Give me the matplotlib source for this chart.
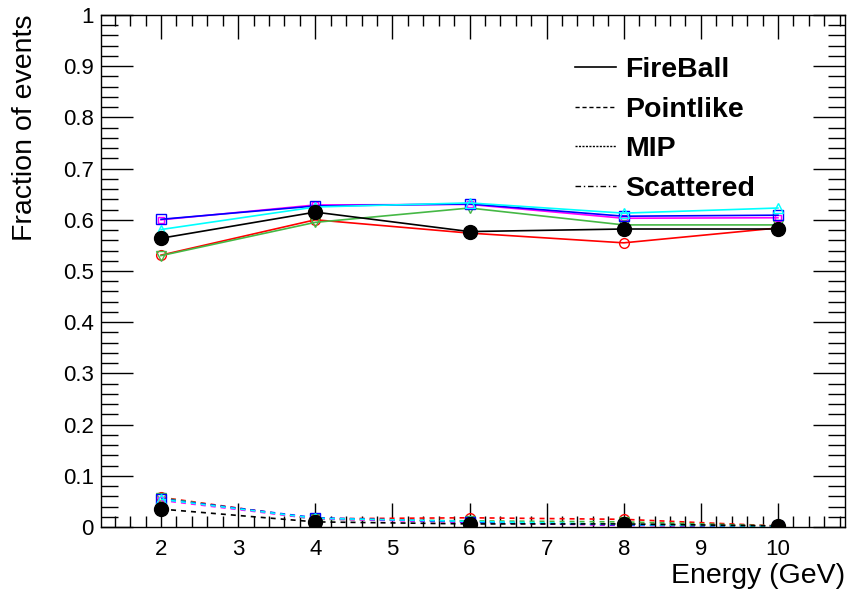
import matplotlib
matplotlib.use('Agg')
import matplotlib.pyplot as plt
from matplotlib.lines import Line2D
from matplotlib.ticker import MultipleLocator

plt.rcParams['font.family'] = ['Liberation Sans', 'DejaVu Sans']

# Energy points (GeV)
energy = [2, 4, 6, 8, 10]

# FireBall fractions, one list per sample
fire_black = [0.564, 0.615, 0.577, 0.582, 0.582]
fire_red = [0.531, 0.600, 0.574, 0.555, 0.584]
fire_green = [0.530, 0.595, 0.623, 0.590, 0.590]
fire_blue = [0.601, 0.627, 0.631, 0.607, 0.609]
fire_magenta = [0.600, 0.629, 0.630, 0.603, 0.604]
fire_cyan = [0.581, 0.625, 0.633, 0.613, 0.623]

# Pointlike fractions
point_black = [0.035, 0.010, 0.006, 0.006, 0.002]
point_red = [0.058, 0.016, 0.018, 0.015, 0.002]
point_green = [0.057, 0.015, 0.012, 0.010, 0.002]
point_blue = [0.055, 0.018, 0.010, 0.004, 0.001]
point_magenta = [0.052, 0.016, 0.009, 0.003, 0.001]
point_cyan = [0.054, 0.017, 0.011, 0.005, 0.001]

legend_labels = ['FireBall', 'Pointlike', 'MIP', 'Scattered']

fig = plt.figure(figsize=(8.48, 5.95), dpi=100)
ax = fig.add_axes([0.119, 0.1143, 0.8775, 0.8605])

green = '#45b845'
styles = [
    (fire_red, point_red, 'red', 'o', 7),
    (fire_green, point_green, green, 'v', 7),
    (fire_magenta, point_magenta, 'magenta', 's', 5),
    (fire_blue, point_blue, 'blue', 's', 7),
    (fire_cyan, point_cyan, 'cyan', '^', 7),
]
for fire, point, col, mk, ms in styles:
    ax.plot(energy, fire, color=col, lw=1.2, marker=mk, mfc='none', mec=col, ms=ms, mew=1.0)
    ax.plot(energy, point, color=col, lw=1.2, ls=(0, (3, 3)), marker=mk, mfc='none', mec=col, ms=ms, mew=1.0)

ax.plot(energy, fire_black, color='black', lw=1.2, marker='o', ms=10)
ax.plot(energy, point_black, color='black', lw=1.2, ls=(0, (3, 3)), marker='o', ms=10)

ax.set_xlim(1.22, 10.87)
ax.set_ylim(0, 1)
ax.xaxis.set_minor_locator(MultipleLocator(0.2))
ax.yaxis.set_minor_locator(MultipleLocator(0.02))
ax.set_xticks([2, 3, 4, 5, 6, 7, 8, 9, 10])
ax.set_xticklabels(['2', '3', '4', '5', '6', '7', '8', '9', '10'])
ax.set_yticks([0, 0.1, 0.2, 0.3, 0.4, 0.5, 0.6, 0.7, 0.8, 0.9, 1])
ax.set_yticklabels(['0', '0.1', '0.2', '0.3', '0.4', '0.5', '0.6', '0.7', '0.8', '0.9', '1'])

ax.tick_params(axis='both', which='both', direction='in', top=True, right=True, labelsize=16, width=1.0)
ax.tick_params(axis='x', which='major', length=17, pad=9)
ax.tick_params(axis='x', which='minor', length=8)
ax.tick_params(axis='y', which='major', length=23, pad=5)
ax.tick_params(axis='y', which='minor', length=12)
for s in ax.spines.values():
    s.set_linewidth(1.0)

ax.set_xlabel('Energy (GeV)', fontsize=20.5, loc='right', labelpad=2)
ax.set_ylabel('Fraction of events', fontsize=20.5, loc='top', labelpad=18)

handles = [
    Line2D([], [], color='black', lw=1.2, ls='-'),
    Line2D([], [], color='black', lw=1.0, ls=(0, (3, 2))),
    Line2D([], [], color='black', lw=1.0, ls=(0, (1.5, 1))),
    Line2D([], [], color='black', lw=1.0, ls=(0, (4, 2, 1, 2))),
]
leg = ax.legend(handles, legend_labels, loc='upper left', bbox_to_anchor=(0.637, 0.918),
                frameon=False, borderpad=0, borderaxespad=0,
                handlelength=1.45, handletextpad=0.3, labelspacing=0.48,
                prop={'size': 20.5, 'weight': 'bold'})

fig.savefig('out.png', dpi=100)
